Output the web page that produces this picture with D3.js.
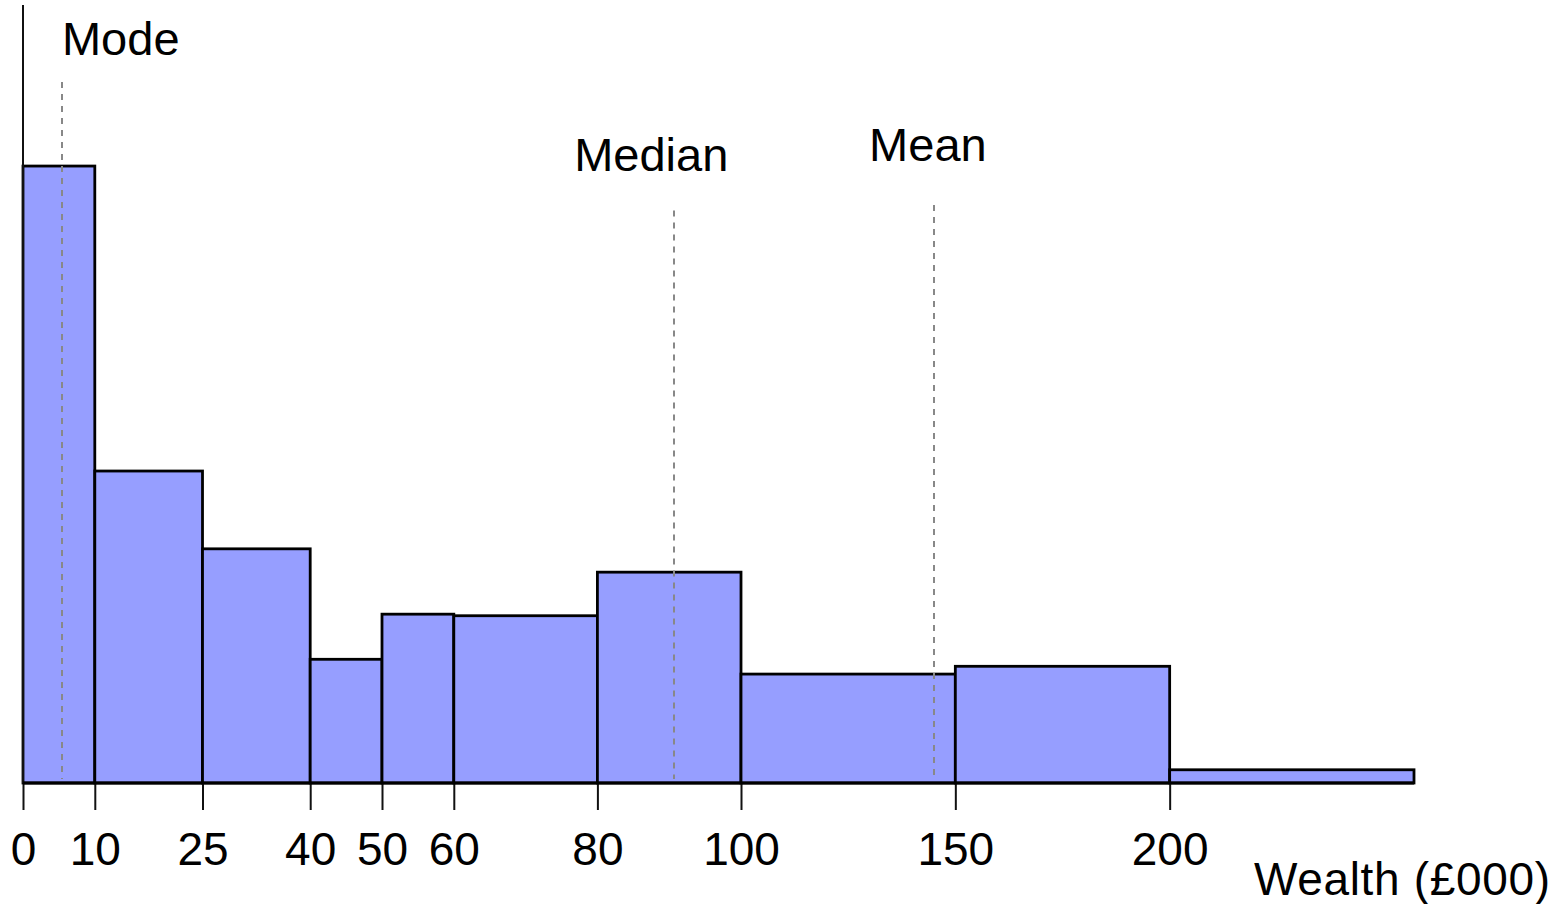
<!DOCTYPE html>
<html>
<head>
<meta charset="utf-8">
<script src="https://cdn.jsdelivr.net/npm/d3@7"></script>
<style>
  html, body { margin: 0; padding: 0; background: #fff; }
  svg { display: block; }
  text { font-family: "Liberation Sans", Arial, sans-serif; fill: #000; }
</style>
</head>
<body>
<svg id="chart" width="1563" height="904"></svg>
<script>
// ---- data ----
const binEdges   = [0, 10, 25, 40, 50, 60, 80, 100, 150, 200, 257]; // last bin open-ended (200+)
const densities  = [79.3, 40.1, 30.1, 15.9, 21.7, 21.5, 27.1, 14.0, 15.0, 1.7];
const tickLabels = ["0", "10", "25", "40", "50", "60", "80", "100", "150", "200"];
const markerNames  = ["Mode", "Median", "Mean"];
const markerValues = [5.4, 90.7, 145];
const markerTops   = [90.1, 73.6, 74.3];
const axisTitle = "Wealth (£000)";

// ---- layout ----
(function () {
const svg = d3.select("#chart");
const mLeft = 23, breakX = 741, mRight = 1414, mTop = 5, mBottom = 783;

// broken axis: linear up to 100, compressed beyond
const x = d3.scaleLinear()
  .domain([0, 100, binEdges[binEdges.length - 1]])
  .range([mLeft, breakX, mRight]);
const y = d3.scaleLinear().domain([0, 100]).range([mBottom, mTop]);

const bins = densities.map((d, i) => ({ x0: binEdges[i], x1: binEdges[i + 1], v: d }));

// bars
svg.append("g").selectAll("rect").data(bins).join("rect")
  .attr("x", d => x(d.x0))
  .attr("y", d => y(d.v))
  .attr("width", d => x(d.x1) - x(d.x0))
  .attr("height", d => y(0) - y(d.v))
  .attr("fill", "#969eff")
  .attr("stroke", "#000")
  .attr("stroke-width", 2.8);

// vertical axis line
svg.append("line")
  .attr("x1", x(0)).attr("x2", x(0))
  .attr("y1", y(100)).attr("y2", y(0))
  .attr("stroke", "#111").attr("stroke-width", 2);

// x axis (ticks at bin edges)
const tickVals = binEdges.slice(0, tickLabels.length);
const xAxis = d3.axisBottom(x)
  .tickValues(tickVals)
  .tickFormat((d, i) => tickLabels[i])
  .tickSize(27)
  .tickPadding(22);
const gx = svg.append("g").attr("transform", `translate(0,${mBottom})`).call(xAxis);
gx.select(".domain").remove();
gx.selectAll(".tick line").attr("stroke", "#111").attr("stroke-width", 2);
gx.selectAll(".tick text")
  .attr("font-family", "Liberation Sans, Arial, sans-serif")
  .attr("font-size", 46).attr("fill", "#000");

// baseline
svg.append("line")
  .attr("x1", x(0)).attr("x2", x(binEdges[binEdges.length - 1]))
  .attr("y1", mBottom).attr("y2", mBottom)
  .attr("stroke", "#000").attr("stroke-width", 2.8);

// axis title
svg.append("text")
  .attr("x", 1550).attr("y", 895)
  .attr("text-anchor", "end")
  .attr("font-size", 46)
  .attr("textLength", 296)
  .text(axisTitle);

// marker lines (mode / median / mean)
const markers = markerNames.map((n, i) => ({ name: n, v: markerValues[i], top: markerTops[i] }));
svg.append("g").selectAll("line").data(markers).join("line")
  .attr("x1", d => Math.round(x(d.v))).attr("x2", d => Math.round(x(d.v)))
  .attr("y1", d => y(d.top)).attr("y2", y(0) - 4)
  .attr("stroke", "#888").attr("stroke-width", 2)
  .attr("stroke-dasharray", "6,6");

const labelDx = [59, -23, -6];
const labelDy = [-27, -39, -44];
svg.append("g").selectAll("text").data(markers).join("text")
  .attr("x", (d, i) => x(d.v) + labelDx[i])
  .attr("y", (d, i) => y(d.top) + labelDy[i])
  .attr("text-anchor", "middle")
  .attr("font-size", 47)
  .text(d => d.name);
})();
</script>
</body>
</html>
